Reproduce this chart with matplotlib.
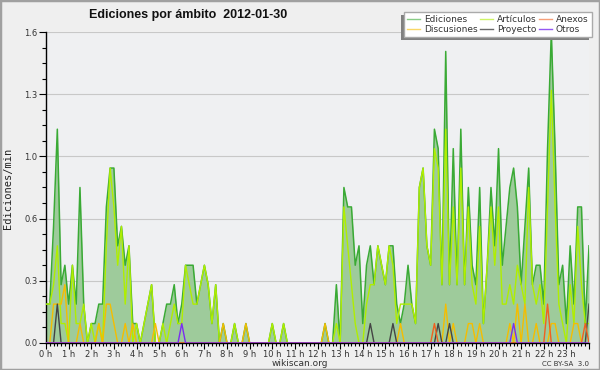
import numpy as np
import matplotlib
matplotlib.use("Agg")
import matplotlib.pyplot as plt
import matplotlib.patheffects as pe
from matplotlib.lines import Line2D
from matplotlib.patches import Rectangle
from matplotlib.ticker import FixedLocator, FuncFormatter

# --------------------------------------------
# DATA - edits per minute, one value every 10 min (00:00 .. 24:00)
# --------------------------------------------
ediciones = [
    0.2, 0.2, 0.6, 1.1, 0.3, 0.4,   0.2, 0.4, 0.2, 0.8, 0.2, 0.0,
    0.1, 0.1, 0.2, 0.2, 0.7, 0.9,   0.9, 0.5, 0.6, 0.4, 0.5, 0.1,
    0.1, 0.0, 0.1, 0.2, 0.3, 0.0,   0.0, 0.1, 0.2, 0.2, 0.3, 0.1,
    0.2, 0.4, 0.4, 0.4, 0.2, 0.3,   0.4, 0.3, 0.1, 0.3, 0.0, 0.1,
    0.0, 0.0, 0.1, 0.0, 0.0, 0.1,   0.0, 0.0, 0.0, 0.0, 0.0, 0.0,
    0.1, 0.0, 0.0, 0.1, 0.0, 0.0,   0.0, 0.0, 0.0, 0.0, 0.0, 0.0,
    0.0, 0.0, 0.1, 0.0, 0.0, 0.3,   0.0, 0.8, 0.7, 0.7, 0.4, 0.5,
    0.1, 0.4, 0.5, 0.3, 0.5, 0.4,   0.3, 0.5, 0.5, 0.2, 0.1, 0.2,
    0.4, 0.2, 0.1, 0.8, 0.9, 0.5,   0.4, 1.1, 1.0, 0.3, 1.5, 0.3,
    1.0, 0.3, 1.1, 0.3, 0.8, 0.4,   0.3, 0.8, 0.1, 0.4, 0.8, 0.5,
    1.0, 0.4, 0.6, 0.8, 0.9, 0.7,   0.3, 0.6, 0.9, 0.3, 0.4, 0.4,
    0.2, 1.0, 1.6, 1.0, 0.3, 0.4,   0.1, 0.5, 0.2, 0.7, 0.7, 0.1,
    0.5,
]
articulos = [
    0.2, 0.2, 0.3, 0.5, 0.1, 0.1,   0.0, 0.4, 0.1, 0.1, 0.2, 0.0,
    0.1, 0.0, 0.1, 0.0, 0.5, 0.9,   0.7, 0.4, 0.6, 0.2, 0.5, 0.0,
    0.1, 0.0, 0.1, 0.2, 0.3, 0.0,   0.0, 0.1, 0.0, 0.1, 0.2, 0.1,
    0.1, 0.4, 0.3, 0.2, 0.2, 0.3,   0.4, 0.3, 0.1, 0.3, 0.0, 0.0,
    0.0, 0.0, 0.1, 0.0, 0.0, 0.0,   0.0, 0.0, 0.0, 0.0, 0.0, 0.0,
    0.1, 0.0, 0.0, 0.1, 0.0, 0.0,   0.0, 0.0, 0.0, 0.0, 0.0, 0.0,
    0.0, 0.0, 0.0, 0.0, 0.0, 0.1,   0.0, 0.7, 0.5, 0.3, 0.1, 0.0,
    0.0, 0.2, 0.3, 0.3, 0.5, 0.4,   0.3, 0.5, 0.4, 0.1, 0.2, 0.2,
    0.2, 0.2, 0.1, 0.8, 0.9, 0.5,   0.4, 1.0, 0.9, 0.3, 1.1, 0.3,
    0.7, 0.3, 0.9, 0.3, 0.7, 0.3,   0.2, 0.6, 0.1, 0.4, 0.7, 0.4,
    0.7, 0.2, 0.2, 0.3, 0.2, 0.4,   0.3, 0.2, 0.8, 0.3, 0.2, 0.3,
    0.1, 0.7, 1.3, 0.7, 0.2, 0.1,   0.0, 0.3, 0.1, 0.6, 0.3, 0.1,
    0.1,
]
discusiones = [
    0.0, 0.0, 0.2, 0.2, 0.2, 0.3,   0.0, 0.0, 0.0, 0.1, 0.0, 0.0,
    0.0, 0.0, 0.1, 0.0, 0.2, 0.2,   0.1, 0.0, 0.0, 0.1, 0.0, 0.1,
    0.0, 0.0, 0.0, 0.0, 0.0, 0.1,   0.0, 0.0, 0.0, 0.0, 0.0, 0.0,
    0.0, 0.0, 0.0, 0.0, 0.0, 0.0,   0.0, 0.0, 0.0, 0.0, 0.0, 0.1,
    0.0, 0.0, 0.0, 0.0, 0.0, 0.1,   0.0, 0.0, 0.0, 0.0, 0.0, 0.0,
    0.0, 0.0, 0.0, 0.0, 0.0, 0.0,   0.0, 0.0, 0.0, 0.0, 0.0, 0.0,
    0.0, 0.0, 0.1, 0.0, 0.0, 0.0,   0.0, 0.0, 0.0, 0.0, 0.0, 0.0,
    0.0, 0.0, 0.0, 0.0, 0.0, 0.0,   0.0, 0.0, 0.0, 0.0, 0.1, 0.0,
    0.0, 0.0, 0.0, 0.0, 0.0, 0.0,   0.0, 0.0, 0.0, 0.0, 0.2, 0.0,
    0.1, 0.0, 0.0, 0.0, 0.1, 0.1,   0.0, 0.1, 0.0, 0.0, 0.0, 0.0,
    0.0, 0.0, 0.0, 0.1, 0.0, 0.2,   0.0, 0.2, 0.0, 0.0, 0.1, 0.0,
    0.0, 0.0, 0.1, 0.1, 0.0, 0.0,   0.0, 0.0, 0.1, 0.1, 0.0, 0.0,
    0.0,
]
proyecto = [0.0] * 145
proyecto[3] = 0.2
proyecto[86] = 0.1
proyecto[92] = 0.1
proyecto[104] = 0.1
proyecto[107] = 0.1
proyecto[144] = 0.2
anexos = [0.0] * 145
anexos[103] = 0.1
anexos[133] = 0.2
anexos[143] = 0.1
otros = [0.0] * 145
otros[36] = 0.1
otros[124] = 0.1

hour_labels = [f"{h} h" for h in range(24)]

# --------------------------------------------
# FIGURE
# --------------------------------------------
minutes = np.arange(len(ediciones)) * 10

fig = plt.figure(figsize=(6, 3.7), dpi=100)
fig.patch.set_facecolor("#efefef")
ax = fig.add_axes([0.0767, 0.073, 0.905, 0.8405])
ax.set_facecolor("#eff0f2")

ax.fill_between(minutes, ediciones, color="#9ecb9b", lw=0, zorder=2)
ax.plot(minutes, ediciones, color="#3aaa35", lw=1.1, zorder=3)
ax.plot(minutes, articulos, color="#b0ee00", lw=1.0, zorder=4)
ax.plot(minutes, discusiones, color="#f5bd00", lw=1.0, zorder=5)
ax.plot(minutes, proyecto, color="#444444", lw=1.0, zorder=6)
ax.plot(minutes, anexos, color="#f06020", lw=1.0, zorder=6)
ax.plot(minutes, otros, color="#7a2ef0", lw=1.0, zorder=6)

ax.set_xlim(0, 1440)
ax.set_ylim(0, 1.6)

ax.xaxis.set_major_locator(FixedLocator(np.arange(25) * 60))
ax.xaxis.set_minor_locator(FixedLocator(np.arange(145) * 10))
ax.xaxis.set_major_formatter(FuncFormatter(
    lambda v, p: hour_labels[int(round(v / 60))] if v < 1440 else ""))
ax.yaxis.set_major_locator(FixedLocator(np.linspace(0, 1.6, 6)))
ax.yaxis.set_minor_locator(FixedLocator(np.arange(21) * 0.08))
ax.yaxis.set_major_formatter(FuncFormatter(lambda v, p: f"{v:.1f}"))

ax.tick_params(axis="both", which="both", direction="out", color="black",
               labelsize=6, labelcolor="#333333", width=0.8)
ax.tick_params(axis="x", which="major", length=4.5, pad=0.5)
ax.tick_params(axis="x", which="minor", length=2.5)
ax.tick_params(axis="y", which="major", length=5, pad=1)
ax.tick_params(axis="y", which="minor", length=3)

ax.yaxis.grid(True, color="#c8c8c8", lw=0.8)
ax.set_axisbelow(True)
for s in ["top", "right"]:
    ax.spines[s].set_visible(False)
for s in ["left", "bottom"]:
    ax.spines[s].set_color("black")
    ax.spines[s].set_linewidth(1.0)

# ---- Legend ----
handles = [
    Line2D([], [], color="#3aaa35", alpha=0.6, lw=1),
    Line2D([], [], color="#f5bd00", alpha=0.6, lw=1),
    Line2D([], [], color="#b0ee00", alpha=0.6, lw=1),
    Line2D([], [], color="#444444", alpha=0.8, lw=1),
    Line2D([], [], color="#f06020", alpha=0.6, lw=1),
    Line2D([], [], color="#7a2ef0", alpha=0.8, lw=1),
]
labels = ["Ediciones", "Discusiones", "Artículos", "Proyecto", "Anexos", "Otros"]
leg = fig.legend(handles, labels, ncol=3, loc="upper right",
                 bbox_to_anchor=(0.986, 0.967), fontsize=6.5,
                 frameon=True, fancybox=False, framealpha=1,
                 edgecolor="#aaaaaa", facecolor="white",
                 handlelength=1.4, handletextpad=0.45, columnspacing=0.3,
                 labelspacing=0.05, borderpad=0.35, borderaxespad=0)
for t in leg.get_texts():
    t.set_color("#333333")
leg.get_frame().set_path_effects([
    pe.SimplePatchShadow(offset=(-2.2, -2.2), shadow_rgbFace="#808080",
                         alpha=1.0),
    pe.Normal(),
])

# ---- Texts ----
fig.text(0.314, 0.959, "Ediciones por ámbito  2012-01-30", ha="center",
         va="center", fontsize=9, fontweight="bold", color="#111111",
         family="Liberation Sans")
fig.text(0.014, 0.492, "Ediciones/min", rotation=90, ha="center", va="center",
         fontsize=7.5, family="DejaVu Sans Mono", color="#222222")
fig.text(0.5, 0.017, "wikiscan.org", ha="center", va="center", fontsize=6.5,
         color="#333333")
fig.text(0.942, 0.017, "CC BY-SA  3.0", ha="center", va="center", fontsize=5,
         color="#333333")

fig.add_artist(Rectangle((0, 0), 1, 1, transform=fig.transFigure,
                         fill=False, ec="#a0a0a0", lw=2.5, zorder=20))

fig.savefig("out.png", dpi=100, facecolor=fig.get_facecolor())
